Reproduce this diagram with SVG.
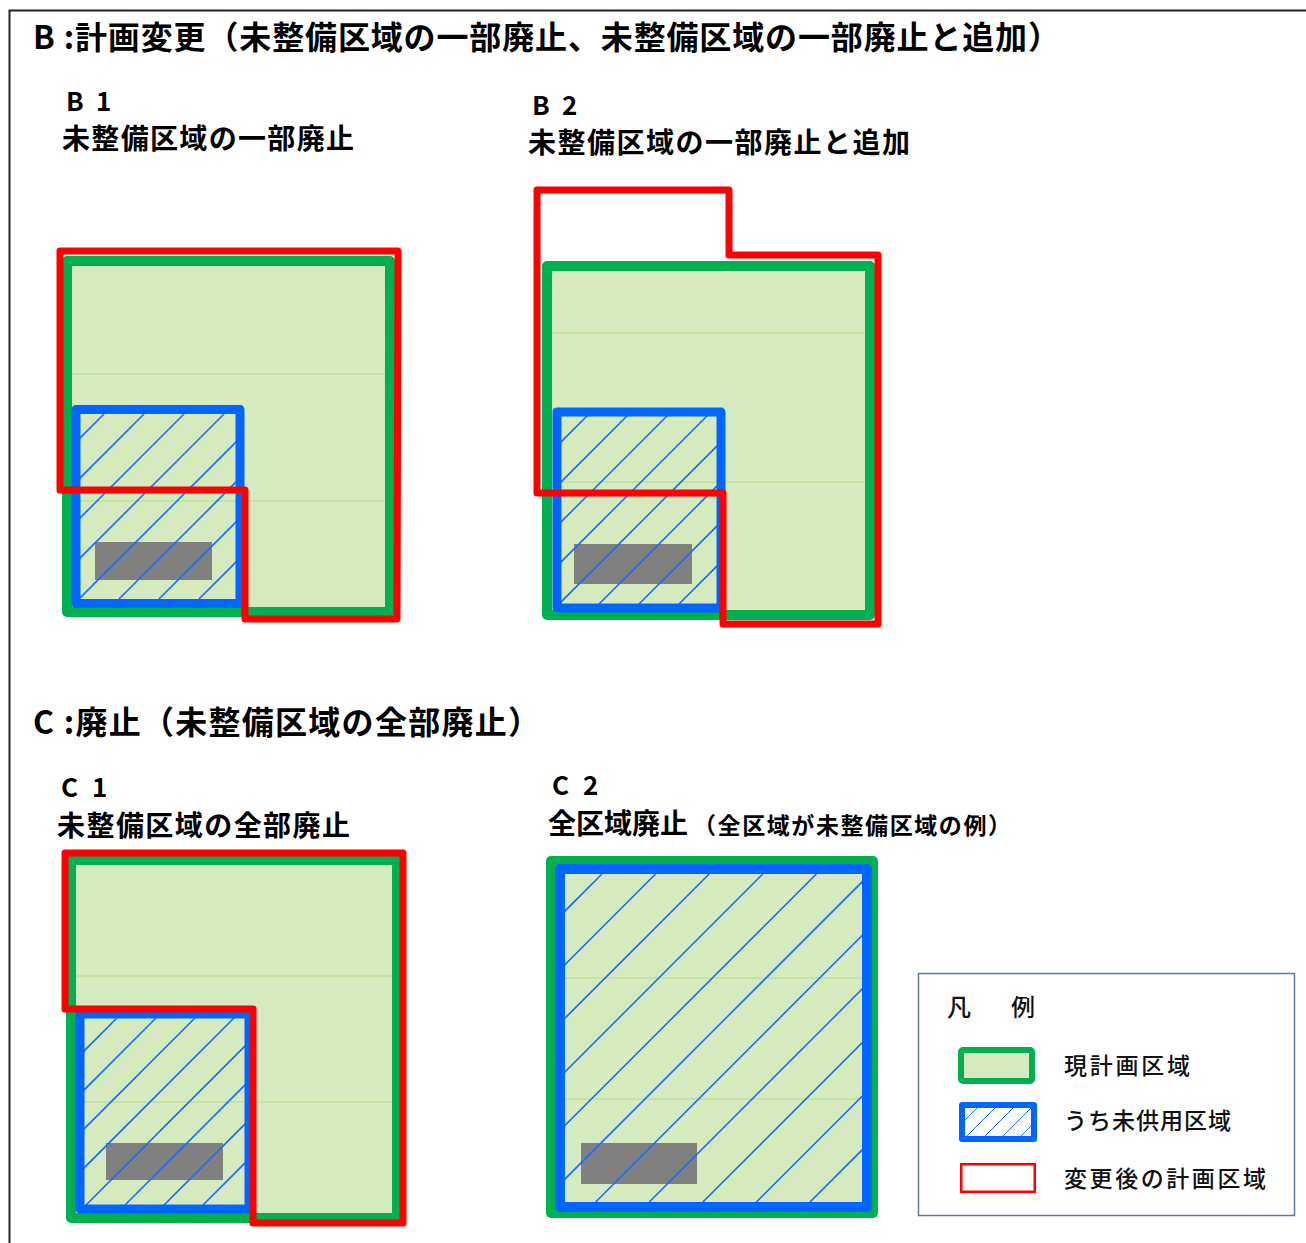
<svg xmlns="http://www.w3.org/2000/svg" width="1306" height="1243" viewBox="0 0 1306 1243">
  <style>
    .green { fill:#d5ebbf; stroke:#00b050; stroke-width:10; stroke-linejoin:round; }
    .blue { fill:none; stroke:#0066ff; stroke-width:9; stroke-linejoin:round; }
    .red { fill:none; stroke:#ff0000; stroke-width:7; stroke-linejoin:round; }
    .gray { fill:#808080; }
    .hatch { stroke:#1a6cff; stroke-width:1.6; fill:none; }
    .faint { stroke:#b3dc8e; stroke-width:1; }
    .h1 { font-family:"Noto Sans CJK JP","Noto Sans",sans-serif; font-weight:700; font-size:32px; fill:#000; }
    .h2 { font-family:"Noto Sans CJK JP","Noto Sans",sans-serif; font-weight:700; font-size:28px; fill:#000; }
    .h3 { font-family:"Noto Sans CJK JP","Noto Sans",sans-serif; font-weight:700; font-size:23px; fill:#000; }
    .lbl { font-family:"Noto Sans CJK JP","Noto Sans",sans-serif; font-weight:700; font-size:26px; fill:#000; }
    .leg { font-family:"Noto Sans CJK JP","Noto Sans",sans-serif; font-weight:500; font-size:23px; fill:#111; }
  </style>
  <defs>
    <clipPath id="cB1"><rect x="80" y="414" width="156" height="185"/></clipPath>
    <clipPath id="cB2"><rect x="561" y="416" width="156" height="188"/></clipPath>
    <clipPath id="cC1"><rect x="84" y="1018" width="161" height="187"/></clipPath>
    <clipPath id="cC2"><rect x="565" y="874" width="297" height="328"/></clipPath>
    <clipPath id="cLeg"><rect x="965" y="1108" width="66" height="28"/></clipPath>
  </defs>

  <rect width="1306" height="1243" fill="#ffffff"/>

  <g id="frame">
    <path d="M9.5,1243 V10.5 H1306" fill="none" stroke="#222" stroke-width="2"/>
  </g>

  <g id="title-B">
    <text class="h1" x="33" y="49" textLength="1027" lengthAdjust="spacing">B :計画変更（未整備区域の一部廃止、未整備区域の一部廃止と追加）</text>
  </g>

  <g id="B1">
    <text class="lbl" x="66" y="111">B <tspan x="96">1</tspan></text>
    <text class="h2" x="62" y="149" textLength="292" lengthAdjust="spacing">未整備区域の一部廃止</text>
    <rect class="green" x="67" y="261" width="323" height="351"/>
    <line class="faint" x1="72" y1="374" x2="385" y2="374"/>
    <line class="faint" x1="72" y1="501" x2="385" y2="501"/>
    <rect class="gray" x="95" y="542" width="117" height="38"/>
    <g class="hatch" clip-path="url(#cB1)">
      <line x1="-81" y1="599" x2="104" y2="414"/>
      <line x1="-41" y1="599" x2="144" y2="414"/>
      <line x1="-1" y1="599" x2="184" y2="414"/>
      <line x1="39" y1="599" x2="224" y2="414"/>
      <line x1="79" y1="599" x2="264" y2="414"/>
      <line x1="119" y1="599" x2="304" y2="414"/>
      <line x1="159" y1="599" x2="344" y2="414"/>
      <line x1="199" y1="599" x2="384" y2="414"/>
    </g>
    <rect class="blue" x="76" y="409.5" width="164" height="194"/>
    <path class="red" d="M60,251 H398 L397,619 H245 V490 H60 Z"/>
  </g>

  <g id="B2">
    <text class="lbl" x="532" y="115">B <tspan x="562">2</tspan></text>
    <text class="h2" x="528" y="153" textLength="382" lengthAdjust="spacing">未整備区域の一部廃止と追加</text>
    <rect class="green" x="547" y="266" width="323" height="349"/>
    <line class="faint" x1="552" y1="333" x2="865" y2="333"/>
    <line class="faint" x1="552" y1="482" x2="865" y2="482"/>
    <rect class="gray" x="574" y="544" width="118" height="40"/>
    <g class="hatch" clip-path="url(#cB2)">
      <line x1="399" y1="604" x2="587" y2="416"/>
      <line x1="439" y1="604" x2="627" y2="416"/>
      <line x1="479" y1="604" x2="667" y2="416"/>
      <line x1="519" y1="604" x2="707" y2="416"/>
      <line x1="559" y1="604" x2="747" y2="416"/>
      <line x1="599" y1="604" x2="787" y2="416"/>
      <line x1="639" y1="604" x2="827" y2="416"/>
      <line x1="679" y1="604" x2="867" y2="416"/>
    </g>
    <rect class="blue" x="557" y="412" width="164" height="196"/>
    <path class="red" d="M537,190 H729 V255 H878 V624 H723 V493 H537 Z"/>
  </g>

  <g id="title-C">
    <text class="h1" x="33" y="734" textLength="507" lengthAdjust="spacing">C :廃止（未整備区域の全部廃止）</text>
  </g>

  <g id="C1">
    <text class="lbl" x="61" y="797">C <tspan x="92">1</tspan></text>
    <text class="h2" x="57" y="836" textLength="293" lengthAdjust="spacing">未整備区域の全部廃止</text>
    <rect class="green" x="71" y="860" width="326" height="358"/>
    <line class="faint" x1="76" y1="976" x2="392" y2="976"/>
    <line class="faint" x1="76" y1="1102" x2="392" y2="1102"/>
    <rect class="gray" x="106" y="1143" width="117" height="37"/>
    <g class="hatch" clip-path="url(#cC1)">
      <line x1="-70" y1="1205" x2="117" y2="1018"/>
      <line x1="-31" y1="1205" x2="156" y2="1018"/>
      <line x1="8" y1="1205" x2="195" y2="1018"/>
      <line x1="47" y1="1205" x2="234" y2="1018"/>
      <line x1="86" y1="1205" x2="273" y2="1018"/>
      <line x1="125" y1="1205" x2="312" y2="1018"/>
      <line x1="164" y1="1205" x2="351" y2="1018"/>
      <line x1="203" y1="1205" x2="390" y2="1018"/>
    </g>
    <rect class="blue" x="80" y="1014" width="169" height="195"/>
    <path class="red" d="M65,853 H403 V1223 H253 V1009 H65 Z"/>
  </g>

  <g id="C2">
    <text class="lbl" x="552" y="795">C <tspan x="583">2</tspan></text>
    <text class="h2" x="548" y="834">全区域廃止<tspan class="h3" x="693" textLength="318" lengthAdjust="spacing">（全区域が未整備区域の例）</tspan></text>
    <rect class="green" x="551" y="861" width="322" height="352"/>
    <line class="faint" x1="565" y1="978" x2="862" y2="978"/>
    <line class="faint" x1="565" y1="1099" x2="862" y2="1099"/>
    <rect class="gray" x="581" y="1143" width="116" height="41"/>
    <g class="hatch" clip-path="url(#cC2)">
      <line x1="274" y1="1202" x2="602" y2="874"/>
      <line x1="327.6" y1="1202" x2="655.6" y2="874"/>
      <line x1="381.2" y1="1202" x2="709.2" y2="874"/>
      <line x1="434.8" y1="1202" x2="762.8" y2="874"/>
      <line x1="488.4" y1="1202" x2="816.4" y2="874"/>
      <line x1="542" y1="1202" x2="870" y2="874"/>
      <line x1="595.6" y1="1202" x2="923.6" y2="874"/>
      <line x1="649.2" y1="1202" x2="977.2" y2="874"/>
      <line x1="702.8" y1="1202" x2="1030.8" y2="874"/>
      <line x1="756.4" y1="1202" x2="1084.4" y2="874"/>
      <line x1="810" y1="1202" x2="1138" y2="874"/>
    </g>
    <rect class="blue" x="560" y="869" width="307" height="338" style="stroke-width:10"/>
  </g>

  <g id="legend">
    <rect x="918.5" y="973.5" width="376" height="242" fill="#ffffff" stroke="#5a78aa" stroke-width="1.5"/>
    <text class="leg" x="947" y="1016" style="font-size:24px;letter-spacing:8px">凡　例</text>
    <rect class="green" x="961" y="1050" width="71" height="31" style="stroke-width:6" rx="2"/>
    <text class="leg" x="1064" y="1074" textLength="126" lengthAdjust="spacing">現計画区域</text>
    <rect x="962" y="1105" width="72" height="34" fill="#ffffff"/>
    <g class="hatch" clip-path="url(#cLeg)" style="stroke-width:1">
      <line x1="949" y1="1136" x2="977" y2="1108"/>
      <line x1="967" y1="1136" x2="995" y2="1108"/>
      <line x1="985" y1="1136" x2="1013" y2="1108"/>
      <line x1="1003" y1="1136" x2="1031" y2="1108"/>
      <line x1="1021" y1="1136" x2="1049" y2="1108"/>
    </g>
    <rect class="blue" x="962" y="1105" width="72" height="34" style="stroke-width:6"/>
    <text class="leg" x="1064" y="1129" textLength="167" lengthAdjust="spacing">うち未供用区域</text>
    <rect x="961.25" y="1164.25" width="73.5" height="27.5" fill="#ffffff" stroke="#ff0000" stroke-width="2.5"/>
    <text class="leg" x="1064" y="1187" textLength="202" lengthAdjust="spacing">変更後の計画区域</text>
  </g>
</svg>
